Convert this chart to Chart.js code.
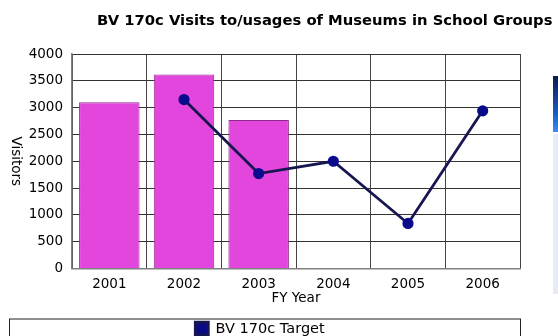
<!DOCTYPE html>
<html>
<head>
<meta charset="utf-8">
<script src="https://cdn.jsdelivr.net/npm/chart.js@4/dist/chart.umd.min.js"></script>
<style>
  html, body { margin: 0; padding: 0; background: #ffffff; overflow: hidden; }
  #wrap { position: relative; width: 558px; height: 336px; }
  #edge { position: absolute; left: 553px; top: 76px; width: 5px; height: 56px;
          background: linear-gradient(#0b1a4a, #1c5fc8 70%, #3a8ff0); }
  #edge2 { position: absolute; left: 553px; top: 134px; width: 5px; height: 160px;
           background: #e8ebf6; }
</style>
</head>
<body>
<div id="wrap">
  <canvas id="c" width="558" height="336"></canvas>
  <div id="edge"></div>
  <div id="edge2"></div>
</div>
<script>
// Museum visits by school groups, per financial year
const years = ['2001', '2002', '2003', '2004', '2005', '2006'];
const actualVisits = [3100, 3620, 2770, null, null, null];
const targetVisits = [null, 3150, 1770, 2000, 840, 2940];
const yTicks = [0, 500, 1000, 1500, 2000, 2500, 3000, 3500, 4000];

const titleText = 'BV 170c Visits to/usages of Museums in School Groups';
const yTitle = 'Visitors';
const xTitle = 'FY Year';
const FONT = "'DejaVu Sans', Verdana, sans-serif";

// Title, rotated y-axis title and the framed legend strip
const decor = {
  id: 'decor',
  afterDraw(chart) {
    const ctx = chart.ctx;
    const area = chart.chartArea;
    ctx.save();
    ctx.fillStyle = '#000';
    // title runs from x=97 to the right edge of the page
    ctx.font = 'bold 12px ' + FONT;
    const w = ctx.measureText(titleText).width;
    const size = 12 * 456 / w;
    ctx.font = 'bold ' + size.toFixed(2) + 'px ' + FONT;
    ctx.textAlign = 'left';
    ctx.textBaseline = 'middle';
    ctx.fillText(titleText, 97, 21);

    ctx.font = '13.5px ' + FONT;
    ctx.translate(15, (area.top + area.bottom) / 2);
    ctx.rotate(Math.PI / 2);
    ctx.textAlign = 'center';
    ctx.fillText(yTitle, 0, 0);
    ctx.restore();

    const lg = chart.legend;
    ctx.save();
    ctx.strokeStyle = '#222';
    ctx.lineWidth = 1;
    ctx.strokeRect(9.5, lg.top + 0.5, area.right - 9, chart.height);
    ctx.restore();
  }
};

new Chart(document.getElementById('c'), {
  data: {
    labels: years,
    datasets: [
      {
        type: 'line',
        label: 'BV 170c Target',
        data: targetVisits,
        borderColor: '#161650',
        backgroundColor: '#0a0a86',
        borderWidth: 2.8,
        pointRadius: 4.2,
        pointBackgroundColor: '#0a0a8c',
        pointBorderColor: '#0a0a8c',
        spanGaps: false,
        order: 0
      },
      {
        type: 'bar',
        label: 'Actual',
        data: actualVisits,
        backgroundColor: '#E346DC',
        borderColor: '#8e2a8e',
        borderWidth: 1,
        barPercentage: 1,
        categoryPercentage: 0.81,
        order: 1
      }
    ]
  },
  options: {
    responsive: false,
    animation: false,
    layout: { padding: { top: 54, right: 38, bottom: -10, left: 0 } },
    plugins: {
      title: { display: false },
      tooltip: { enabled: false },
      legend: {
        position: 'bottom',
        labels: {
          filter: (item) => item.text === 'BV 170c Target',
          color: '#000',
          font: { family: FONT, size: 14.5 },
          boxWidth: 13,
          boxHeight: 13,
          padding: 3
        }
      }
    },
    scales: {
      x: {
        offset: true,
        grid: { offset: true, color: '#444', drawTicks: false, lineWidth: 1 },
        border: { color: '#808080', width: 1.5 },
        ticks: { color: '#000', font: { family: FONT, size: 13.5 }, padding: 8 },
        title: { display: true, text: xTitle, color: '#000',
                 font: { family: FONT, size: 13.5 }, padding: { top: 0, bottom: 12 } },
        afterFit(scale) { scale.height = 50; }
      },
      y: {
        min: 0,
        max: 4000,
        afterBuildTicks(scale) { scale.ticks = yTicks.map(v => ({ value: v })); },
        grid: { color: '#333', drawTicks: false, lineWidth: 1 },
        border: { color: '#808080', width: 1.5 },
        ticks: { color: '#000', font: { family: FONT, size: 13.5 }, padding: 9,
                 callback: (v) => String(v) },
        afterFit(scale) { scale.width = 72; }
      }
    }
  },
  plugins: [decor]
});
</script>
</body>
</html>
